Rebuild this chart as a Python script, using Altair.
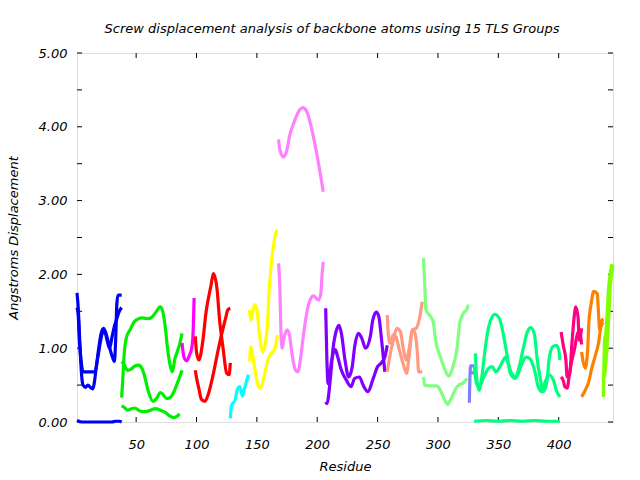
import altair as alt
import pandas as pd

# ---- data (residue, screw displacement in Å) ----
BLUE_A_RES = [1, 2, 3, 4, 5, 6, 8, 10, 12, 14, 15, 17, 19, 21, 23, 25, 27, 29, 31, 32, 33, 34, 35, 38]
BLUE_A_VAL = [1.75, 1.55, 1.2, 0.85, 0.6, 0.5, 0.47, 0.5, 0.47, 0.45, 0.5, 0.75, 1.0, 1.2, 1.27, 1.2, 1.08, 0.95, 0.85, 0.82, 1.1, 1.6, 1.72, 1.72]
BLUE_B_RES = [1, 2, 3, 4, 5, 6, 8, 12, 16, 18, 20, 22, 24, 26, 28, 30, 32, 34, 36, 38]
BLUE_B_VAL = [1.55, 1.45, 1.1, 0.9, 0.75, 0.68, 0.68, 0.68, 0.68, 0.85, 1.05, 1.2, 1.22, 1.1, 1.0, 1.15, 1.3, 1.4, 1.5, 1.55]
BLUE_C_RES = [1, 5, 10, 20, 30, 33, 36, 38]
BLUE_C_VAL = [0.02, 0.0, 0.0, 0.0, 0.0, 0.01, 0.01, 0.0]

GREEN_A_RES = [38, 39, 40, 42, 45, 48, 52, 55, 60, 63, 66, 70, 72, 74, 76, 78, 80, 82, 84, 86, 88]
GREEN_A_VAL = [0.33, 0.6, 0.9, 1.15, 1.25, 1.35, 1.4, 1.41, 1.4, 1.42, 1.48, 1.56, 1.5, 1.3, 1.0, 0.78, 0.68, 0.85, 0.95, 1.05, 1.2]
GREEN_B_RES = [38, 40, 43, 46, 49, 52, 55, 57, 60, 64, 67, 70, 72, 75, 78, 81, 84, 88]
GREEN_B_VAL = [0.82, 0.78, 0.70, 0.72, 0.76, 0.77, 0.72, 0.62, 0.42, 0.28, 0.32, 0.40, 0.38, 0.32, 0.33, 0.40, 0.52, 0.70]
GREEN_C_RES = [38, 40, 43, 46, 49, 53, 58, 62, 66, 70, 74, 78, 81, 84, 86]
GREEN_C_VAL = [0.22, 0.2, 0.16, 0.18, 0.19, 0.15, 0.14, 0.16, 0.18, 0.16, 0.13, 0.08, 0.06, 0.08, 0.11]

MAGENTA_RES = [88, 89, 90, 92, 94, 96, 97, 98]
MAGENTA_VAL = [1.07, 0.93, 0.86, 0.83, 0.9, 1.0, 1.15, 1.68]

RED_A_RES = [99, 100, 102, 104, 107, 110, 114, 118, 121, 124, 126, 128]
RED_A_VAL = [0.70, 0.6, 0.45, 0.31, 0.28, 0.39, 0.66, 0.98, 1.2, 1.4, 1.52, 1.54]
RED_B_RES = [99, 100, 102, 105, 108, 112, 114, 117, 119, 122, 125, 127, 128]
RED_B_VAL = [1.16, 0.95, 0.84, 1.07, 1.5, 1.85, 2.01, 1.8, 1.4, 1.0, 0.66, 0.64, 0.80]

CYAN_RES = [128, 129, 132, 134, 136, 138, 140, 143]
CYAN_VAL = [0.05, 0.22, 0.30, 0.45, 0.48, 0.35, 0.47, 0.64]

YELLOW_A_RES = [144, 145, 148, 150, 152, 155, 157, 159, 160, 162, 164, 166, 167]
YELLOW_A_VAL = [1.52, 1.38, 1.59, 1.52, 1.2, 0.95, 1.07, 1.38, 1.74, 2.15, 2.42, 2.58, 2.6]
YELLOW_B_RES = [144, 145, 146, 148, 151, 153, 156, 159, 162, 165, 167]
YELLOW_B_VAL = [0.82, 1.02, 0.95, 0.75, 0.5, 0.46, 0.61, 0.84, 0.93, 1.0, 1.18]

PINK_A_RES = [168, 169, 172, 175, 177, 181, 185, 188, 191, 195, 199, 203, 205]
PINK_A_VAL = [3.83, 3.69, 3.59, 3.69, 3.87, 4.07, 4.22, 4.26, 4.22, 4.0, 3.69, 3.32, 3.12]
PINK_B_RES = [168, 169, 170, 171, 172, 175, 177, 179, 182, 184, 186, 188, 191, 194, 197, 201, 203, 204, 205]
PINK_B_VAL = [2.15, 1.83, 1.2, 1.0, 1.1, 1.25, 1.18, 0.93, 0.70, 0.68, 0.84, 1.1, 1.45, 1.65, 1.71, 1.65, 1.74, 2.0, 2.17]

PURPLE_A_RES = [207, 208, 209, 212, 215, 217, 220, 224, 228, 231, 235, 238, 242, 246, 250, 253, 256, 258]
PURPLE_A_VAL = [1.54, 0.84, 0.52, 0.84, 0.98, 0.88, 0.70, 0.57, 0.48, 0.59, 0.61, 0.5, 0.41, 0.57, 0.75, 0.80, 0.88, 1.04]
PURPLE_B_RES = [207, 208, 211, 213, 216, 218, 220, 223, 226, 229, 231, 234, 237, 240, 244, 246, 249, 251, 253, 255, 256]
PURPLE_B_VAL = [0.27, 0.25, 0.61, 0.98, 1.25, 1.31, 1.2, 0.84, 0.61, 0.75, 1.02, 1.2, 1.13, 1.0, 1.16, 1.38, 1.49, 1.43, 1.16, 0.84, 0.68]

SALMON_A_RES = [258, 259, 260, 263, 265, 268, 271, 274, 276, 279, 282, 285, 287]
SALMON_A_VAL = [1.45, 1.16, 1.07, 1.18, 1.16, 0.98, 0.80, 0.66, 0.88, 1.25, 1.27, 1.43, 1.63]
SALMON_B_RES = [258, 260, 263, 266, 269, 271, 274, 276, 279, 281, 283, 284, 287]
SALMON_B_VAL = [0.68, 0.88, 1.11, 1.27, 1.22, 1.02, 0.84, 0.98, 1.25, 1.2, 0.93, 0.68, 0.68]

LGREEN_A_RES = [288, 289, 290, 293, 296, 298, 302, 306, 309, 312, 316, 318, 321, 324, 325]
LGREEN_A_VAL = [2.22, 1.88, 1.52, 1.45, 1.36, 1.11, 0.88, 0.70, 0.62, 0.73, 1.02, 1.34, 1.47, 1.53, 1.59]
LGREEN_B_RES = [288, 289, 293, 299, 302, 305, 308, 311, 315, 318, 321, 324]
LGREEN_B_VAL = [0.61, 0.5, 0.49, 0.49, 0.43, 0.32, 0.24, 0.32, 0.46, 0.51, 0.53, 0.59]

LAVENDER_A_RES = [326, 327, 330]
LAVENDER_A_VAL = [0.26, 0.76, 0.76]
LAVENDER_B_RES = [326, 330]
LAVENDER_B_VAL = [0.68, 0.66]

SPRING_A_RES = [331, 332, 334, 336, 339, 342, 345, 347, 351, 354, 357, 360, 364, 367, 371, 374, 377, 380, 382, 385, 387, 390, 392, 395, 398, 400, 401]
SPRING_A_VAL = [0.93, 0.61, 0.43, 0.57, 0.98, 1.29, 1.43, 1.46, 1.4, 1.2, 0.93, 0.66, 0.59, 0.73, 1.02, 1.22, 1.28, 1.18, 0.88, 0.57, 0.41, 0.52, 0.84, 1.02, 1.04, 0.98, 0.84]
SPRING_B_RES = [330, 332, 334, 338, 342, 345, 348, 352, 356, 358, 361, 365, 369, 373, 376, 380, 383, 386, 389, 392, 396, 398, 401]
SPRING_B_VAL = [0.75, 0.52, 0.48, 0.61, 0.73, 0.75, 0.68, 0.77, 0.88, 0.80, 0.66, 0.61, 0.77, 0.88, 0.86, 0.70, 0.48, 0.41, 0.55, 0.64, 0.55, 0.43, 0.34]
SPRING_C_RES = [330, 340, 350, 360, 370, 380, 390, 401]
SPRING_C_VAL = [0.01, 0.02, 0.01, 0.02, 0.01, 0.02, 0.01, 0.01]

DPINK_A_RES = [402, 404, 406, 407, 409, 411, 413, 414, 416, 417, 419]
DPINK_A_VAL = [1.22, 1.02, 0.84, 0.61, 0.64, 1.07, 1.45, 1.56, 1.43, 1.11, 1.27]
DPINK_B_RES = [402, 404, 405, 407, 409, 411, 413, 415, 417, 419]
DPINK_B_VAL = [0.61, 0.55, 0.48, 0.46, 0.66, 0.84, 0.98, 1.16, 1.25, 1.05]

ORANGE_A_RES = [419, 420, 422, 424, 425, 427, 429, 432, 433, 434, 436, 437]
ORANGE_A_VAL = [0.95, 0.84, 0.73, 0.98, 1.34, 1.61, 1.77, 1.74, 1.47, 1.25, 1.38, 1.40]
ORANGE_B_RES = [419, 422, 425, 427, 430, 433, 435, 437]
ORANGE_B_VAL = [0.34, 0.43, 0.55, 0.70, 0.88, 1.07, 1.29, 1.35]

CHART_A_RES = [437, 438, 439, 440, 441, 443, 444]
CHART_A_VAL = [0.34, 1.11, 1.2, 1.43, 1.74, 2.06, 2.14]
CHART_B_RES = [438, 440, 441, 443, 445]
CHART_B_VAL = [0.61, 0.98, 1.25, 1.88, 2.13]

GROUPS = ["g01", "g02", "g03", "g04", "g05", "g06", "g07", "g08",
          "g09", "g10", "g11", "g12", "g13", "g14", "g15"]
GROUP_COLORS = ["#0000f0", "#00ee00", "#ff00ff", "#ff0000", "#00ffff", "#ffff00", "#ff80ff", "#8000ff",
                "#ff9980", "#80ff80", "#8080ff", "#00ff80", "#ff0080", "#ff8000", "#80ff00"]

X_TICKS = [50, 100, 150, 200, 250, 300, 350, 400]
Y_TICKS = [0.0, 0.5, 1.0, 1.5, 2.0, 2.5, 3.0, 3.5, 4.0, 4.5, 5.0]

LINES = [
    ("g01", "a", BLUE_A_RES, BLUE_A_VAL), ("g01", "b", BLUE_B_RES, BLUE_B_VAL), ("g01", "c", BLUE_C_RES, BLUE_C_VAL),
    ("g02", "a", GREEN_A_RES, GREEN_A_VAL), ("g02", "b", GREEN_B_RES, GREEN_B_VAL), ("g02", "c", GREEN_C_RES, GREEN_C_VAL),
    ("g03", "a", MAGENTA_RES, MAGENTA_VAL),
    ("g04", "a", RED_A_RES, RED_A_VAL), ("g04", "b", RED_B_RES, RED_B_VAL),
    ("g05", "a", CYAN_RES, CYAN_VAL),
    ("g06", "a", YELLOW_A_RES, YELLOW_A_VAL), ("g06", "b", YELLOW_B_RES, YELLOW_B_VAL),
    ("g07", "a", PINK_A_RES, PINK_A_VAL), ("g07", "b", PINK_B_RES, PINK_B_VAL),
    ("g08", "a", PURPLE_A_RES, PURPLE_A_VAL), ("g08", "b", PURPLE_B_RES, PURPLE_B_VAL),
    ("g09", "a", SALMON_A_RES, SALMON_A_VAL), ("g09", "b", SALMON_B_RES, SALMON_B_VAL),
    ("g10", "a", LGREEN_A_RES, LGREEN_A_VAL), ("g10", "b", LGREEN_B_RES, LGREEN_B_VAL),
    ("g11", "a", LAVENDER_A_RES, LAVENDER_A_VAL), ("g11", "b", LAVENDER_B_RES, LAVENDER_B_VAL),
    ("g12", "a", SPRING_A_RES, SPRING_A_VAL), ("g12", "b", SPRING_B_RES, SPRING_B_VAL), ("g12", "c", SPRING_C_RES, SPRING_C_VAL),
    ("g13", "a", DPINK_A_RES, DPINK_A_VAL), ("g13", "b", DPINK_B_RES, DPINK_B_VAL),
    ("g14", "a", ORANGE_A_RES, ORANGE_A_VAL), ("g14", "b", ORANGE_B_RES, ORANGE_B_VAL),
    ("g15", "a", CHART_A_RES, CHART_A_VAL), ("g15", "b", CHART_B_RES, CHART_B_VAL),
]

rows = []
for g, s, rs, vs in LINES:
    for r, v in zip(rs, vs):
        rows.append({"group": g, "line": g + s, "res": r, "val": v})
df = pd.DataFrame(rows)

FONT = "DejaVu Sans"
FS = 13
W, H = 536, 369

xscale = alt.Scale(domain=[1, 445], nice=False, zero=False)
yscale = alt.Scale(domain=[0, 5], nice=False)

lines = alt.Chart(df).mark_line(strokeWidth=3.2, interpolate="monotone", clip=False).encode(
    x=alt.X("res:Q", scale=xscale,
            axis=alt.Axis(values=X_TICKS, title="Residue", grid=False, ticks=False, domain=False,
                          labelFont=FONT, labelFontSize=FS, labelFontStyle="italic", labelColor="black",
                          labelPadding=16, titleFont=FONT, titleFontSize=FS, titleFontStyle="italic",
                          titleFontWeight="normal", titleColor="black", titlePadding=9)),
    y=alt.Y("val:Q", scale=yscale,
            axis=alt.Axis(values=Y_TICKS, format=".2f", title="Angstroms Displacement", grid=False,
                          ticks=False, domain=False, labelFont=FONT, labelFontSize=FS,
                          labelFontStyle="italic", labelColor="black", labelPadding=10,
                          titleFont=FONT, titleFontSize=FS, titleFontStyle="italic",
                          titleFontWeight="normal", titleColor="black", titlePadding=18)),
    color=alt.Color("group:N", scale=alt.Scale(domain=GROUPS, range=GROUP_COLORS), legend=None),
    detail="line:N",
    order="res:Q",
)

xt = pd.DataFrame({"t": X_TICKS})
yt = pd.DataFrame({"t": Y_TICKS})
TK = 5
xb = alt.Chart(xt).mark_rule(color="black", strokeWidth=1).encode(
    x=alt.X("t:Q", scale=xscale), y=alt.value(H), y2=alt.value(H - TK))
xtop = alt.Chart(xt).mark_rule(color="black", strokeWidth=1).encode(
    x=alt.X("t:Q", scale=xscale), y=alt.value(0), y2=alt.value(TK))
yl = alt.Chart(yt).mark_rule(color="black", strokeWidth=1).encode(
    y=alt.Y("t:Q", scale=yscale), x=alt.value(0), x2=alt.value(TK))
yr = alt.Chart(yt).mark_rule(color="black", strokeWidth=1).encode(
    y=alt.Y("t:Q", scale=yscale), x=alt.value(W), x2=alt.value(W - TK))

chart = alt.layer(xb, xtop, yl, yr, lines).properties(
    width=W, height=H,
    title=alt.TitleParams("Screw displacement analysis of backbone atoms using 15 TLS Groups",
                          font=FONT, fontSize=FS, fontStyle="italic", fontWeight="normal",
                          color="black", anchor="middle", dx=-13, offset=11),
    autosize=alt.AutoSizeParams(type="none"),
    padding={"left": 77, "top": 53, "right": 27, "bottom": 58},
).configure_view(stroke="black", strokeWidth=1).configure(background="white")

chart.save("out.html", embed_options={"renderer": "svg", "actions": False})
